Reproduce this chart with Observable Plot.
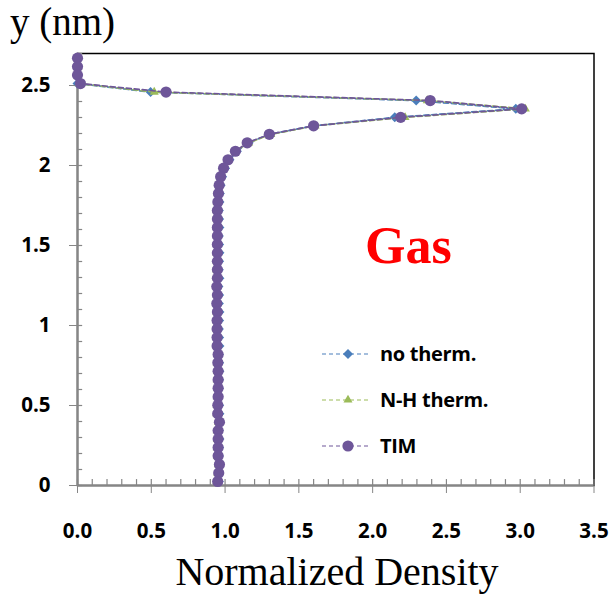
<!DOCTYPE html>
<html><head><meta charset="utf-8">
<script src="https://cdn.jsdelivr.net/npm/d3@7"></script>
<script src="https://cdn.jsdelivr.net/npm/@observablehq/plot@0.6"></script>
<style>
body{margin:0;background:#fff;}
#wrap{position:relative;width:611px;height:594px;overflow:hidden;}
#legend{position:absolute;left:321px;top:340px;font-family:"Open Sans",sans-serif;font-weight:bold;font-size:20px;color:#000;}
.row{position:absolute;left:0;height:28px;white-space:nowrap;}
.row svg{position:absolute;left:0;top:0;}
.row span{position:absolute;left:59px;top:0;line-height:28px;letter-spacing:-0.3px;}
</style></head><body><div id="wrap"><div id="legend"></div></div>
<script>
// y positions (nm)
const yPos = [2.671,2.618,2.565,2.512,2.459,2.406,2.354,2.301,2.248,2.195,2.142,2.089,2.036,1.983,1.930,1.877,1.825,1.772,1.719,1.666,1.613,1.560,1.507,1.454,1.401,1.349,1.296,1.243,1.190,1.137,1.084,1.031,0.978,0.925,0.872,0.819,0.767,0.714,0.661,0.608,0.555,0.502,0.449,0.396,0.343,0.290,0.237,0.184,0.131,0.078,0.025];
// normalized density, series
const noTherm = [0,0,0,0,0.495,2.295,2.97,2.15,1.60,1.30,1.16,1.08,1.03,1.00,0.98,0.97,0.965,
  0.962,0.958,0.960,0.962,0.958,0.960,0.962,0.960,0.958,0.962,0.955,0.960,0.958,0.962,0.960,0.958,0.960,
  0.962,0.958,0.960,0.962,0.960,0.958,0.955,0.960,0.962,0.960,0.958,0.962,0.960,0.958,0.962,0.960,0.958];
const nhTherm = [0,0,0,0.01,0.52,2.37,3.035,2.22,1.61,1.31,1.16,1.07,1.02,0.99,0.97,0.958,0.952,
  0.946,0.944,0.946,0.943,0.945,0.946,0.944,0.945,0.943,0.946,0.942,0.945,0.942,0.944,0.943,0.943,0.944,
  0.943,0.948,0.946,0.947,0.946,0.948,0.946,0.945,0.944,0.955,0.946,0.947,0.946,0.947,0.955,0.950,0.945];
const tim = [0,0,0,0.02,0.60,2.39,3.01,2.19,1.60,1.30,1.15,1.07,1.02,0.99,0.97,0.96,0.955,
  0.951,0.948,0.948,0.948,0.948,0.948,0.948,0.948,0.948,0.948,0.944,0.948,0.944,0.948,0.946,0.946,0.946,
  0.946,0.953,0.951,0.953,0.953,0.953,0.953,0.951,0.950,0.962,0.953,0.953,0.953,0.953,0.962,0.957,0.950];

const seriesNames = ["no therm.", "N-H therm.", "TIM"];
const seriesValues = [noTherm, nhTherm, tim];
const seriesColors = ["#4A7EBB", "#9BBB59", "#6E5699"];
const seriesSymbols = ["diamond2", "triangle2", "circle"];
const seriesRadius = [4.5, 4.3, 5.6];

const xTicks = [0, 0.5, 1, 1.5, 2, 2.5, 3, 3.5];
const xTickLabels = ["0.0","0.5","1.0","1.5","2.0","2.5","3.0","3.5"];
const yTicks = [0, 0.5, 1, 1.5, 2, 2.5];
const yTickLabels = ["0","0.5","1","1.5","2","2.5"];
const xMinor = d3.range(0, 3.5001, 0.1).map(v => +v.toFixed(1));
const yMinor = d3.range(0, 2.7001, 0.1).map(v => +v.toFixed(1));
const xTitle = "Normalized Density";
const yTitle = "y (nm)";
const note = "Gas";

const rows = [];
seriesNames.forEach((name, s) => {
  seriesValues[s].forEach((v, k) => rows.push({series: name, x: v, y: yPos[k]}));
});

const gray = "#868686";
const tickFont = {fontFamily: "Open Sans", fontSize: 20.5, fontWeight: "bold"};

const seriesMarks = seriesNames.flatMap((name, s) => {
  const d = rows.filter(r => r.series === name);
  return [
    Plot.line(d, {x: "x", y: "y", stroke: seriesColors[s], strokeWidth: 1.7, strokeDasharray: "5,3"}),
    Plot.dot(d, {x: "x", y: "y", symbol: seriesSymbols[s], r: seriesRadius[s], fill: seriesColors[s], stroke: "none"})
  ];
});

const chart = Plot.plot({
  width: 611, height: 594,
  marginLeft: 77, marginRight: 17.5, marginTop: 53, marginBottom: 109,
  x: {domain: [0, 3.5]},
  y: {domain: [0, 2.7]},
  style: {background: "transparent", overflow: "visible"},
  marks: [
    Plot.frame({stroke: "#000", strokeWidth: 1.5}),
    Plot.ruleX(xMinor, {x: d => d, y1: 0, y2: 0.037, stroke: gray, strokeWidth: 1.2}),
    Plot.ruleY(yMinor, {y: d => d, x1: 0, x2: 0.035, stroke: gray, strokeWidth: 1.2}),
    Plot.ruleX([0], {stroke: gray, strokeWidth: 2}),
    Plot.ruleY([0], {stroke: gray, strokeWidth: 2}),
    Plot.axisX(xTicks, {anchor: "bottom", tickSize: 8, tickPadding: 30, tickFormat: d => xTickLabels[xTicks.indexOf(d)], stroke: gray, fill: "#000", label: null, ...tickFont}),
    Plot.axisY(yTicks, {anchor: "left", tickSize: 8, tickPadding: 19, tickFormat: d => yTickLabels[yTicks.indexOf(d)], stroke: gray, fill: "#000", label: null, ...tickFont}),
    ...seriesMarks
  ]
});

const svg = d3.select(chart);
svg.append("text").attr("x", 10).attr("y", 35).attr("text-anchor", "start").attr("font-family", "Liberation Serif, serif")
  .attr("font-size", 39).attr("fill", "#000").text(yTitle);
svg.append("text").attr("x", 337).attr("y", 585).attr("text-anchor", "middle").attr("font-family", "Liberation Serif, serif")
  .attr("font-size", 40).attr("fill", "#000").text(xTitle);
svg.append("text").attr("x", 365).attr("y", 263).attr("text-anchor", "start").attr("font-family", "Liberation Serif, serif")
  .attr("font-size", 52).attr("font-weight", "bold").attr("fill", "#FF0000").text(note);

const wrap = document.getElementById("wrap");
wrap.insertBefore(chart, wrap.firstChild);
chart.style.position = "absolute"; chart.style.left = "0"; chart.style.top = "0";

const legend = d3.select("#legend");
const symMap = {diamond2: d3.symbolDiamond2, triangle2: d3.symbolTriangle2, circle: d3.symbolCircle};
seriesNames.forEach((name, s) => {
  const row = legend.append("div").attr("class", "row").style("top", (s * 46) + "px");
  const g = row.append("svg").attr("width", 50).attr("height", 28);
  g.append("line").attr("x1", 1).attr("x2", 48).attr("y1", 14).attr("y2", 14)
    .attr("stroke", seriesColors[s]).attr("stroke-width", 1.2).attr("stroke-dasharray", "4,3");
  g.append("path").attr("transform", "translate(27,14)")
    .attr("d", d3.symbol(symMap[seriesSymbols[s]], Math.PI * seriesRadius[s] ** 2)())
    .attr("fill", seriesColors[s]);
  row.append("span").text(name);
});
</script></body></html>
